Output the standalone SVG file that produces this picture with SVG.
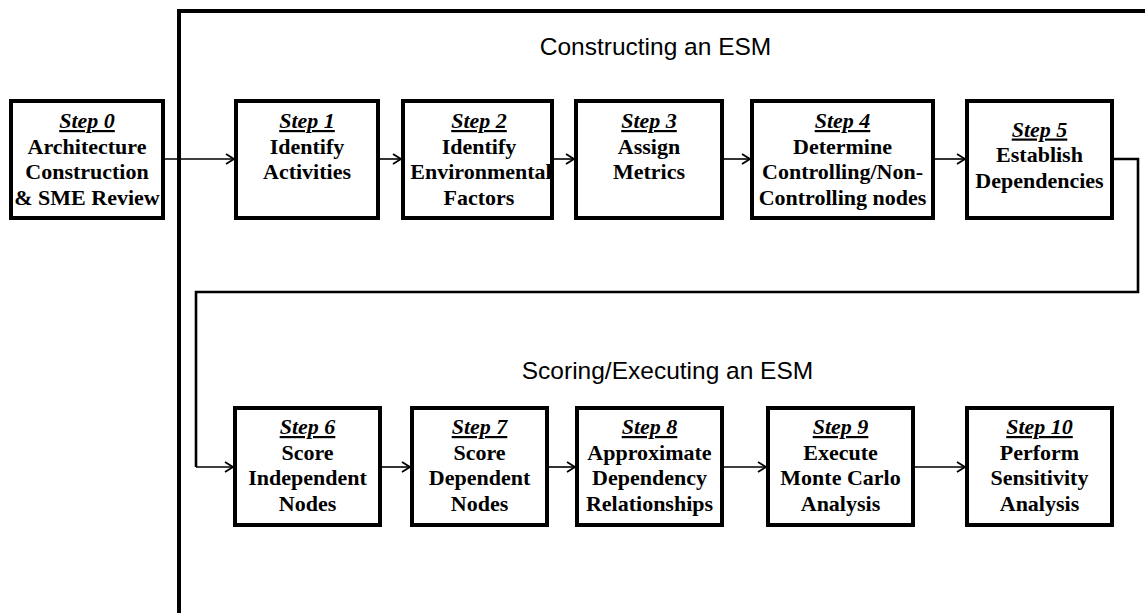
<svg xmlns="http://www.w3.org/2000/svg" width="1145" height="613" viewBox="0 0 1145 613">
<style>
.box{fill:#fff;stroke:#000;stroke-width:4}
.t{font-family:"Liberation Serif",serif;font-weight:bold;font-size:22px;text-anchor:middle;fill:#000}
.s{font-style:italic;text-decoration:underline}
.h{font-family:"Liberation Sans",Arial,sans-serif;font-size:24.5px;text-anchor:middle;fill:#000}
.c{fill:none;stroke:#000;stroke-width:1.6}
.loop{fill:none;stroke:#000;stroke-width:2.6}
.frame{fill:none;stroke:#000;stroke-width:4}
</style>
<defs>
<marker id="ah" markerUnits="userSpaceOnUse" markerWidth="12" markerHeight="14" refX="9" refY="6" orient="auto">
<path d="M1,1 L9,6 L1,11" fill="none" stroke="#000" stroke-width="1.8"/>
</marker>
</defs>
<rect width="1145" height="613" fill="#fff"/>
<g id="frame">
<path class="frame" d="M179,613 V11 H1145"/>
</g>
<g id="titles">
<text class="h" x="655.5" y="55">Constructing an ESM</text>
<text class="h" x="667.5" y="379">Scoring/Executing an ESM</text>
</g>
<g id="connectors">
<path class="c" d="M163,159 H234" marker-end="url(#ah)"/>
<path class="c" d="M378,159 H401" marker-end="url(#ah)"/>
<path class="c" d="M552,159 H574" marker-end="url(#ah)"/>
<path class="c" d="M722,159 H750" marker-end="url(#ah)"/>
<path class="c" d="M933,159 H965" marker-end="url(#ah)"/>
<path class="loop" d="M1112,159 H1138 V292 H196 V467"/>
<path class="c" d="M196,467 H233" marker-end="url(#ah)"/>
<path class="c" d="M380,467 H410" marker-end="url(#ah)"/>
<path class="c" d="M547,467 H575" marker-end="url(#ah)"/>
<path class="c" d="M722,467 H766" marker-end="url(#ah)"/>
<path class="c" d="M913,467 H965" marker-end="url(#ah)"/>
</g>
<g id="step0">
<rect class="box" x="11" y="101" width="152" height="117"/>
<text class="t s" x="87" y="128">Step 0</text>
<text class="t" x="87" y="153.5">Architecture</text>
<text class="t" x="87" y="179">Construction</text>
<text class="t" x="87" y="204.5">&amp; SME Review</text>
</g>
<g id="step1">
<rect class="box" x="236" y="101" width="142" height="117"/>
<text class="t s" x="307" y="128">Step 1</text>
<text class="t" x="307" y="153.5">Identify</text>
<text class="t" x="307" y="179">Activities</text>
</g>
<g id="step2">
<rect class="box" x="403" y="101" width="149" height="117"/>
<text class="t s" x="479" y="128">Step 2</text>
<text class="t" x="479" y="153.5">Identify</text>
<text class="t" x="481" y="179">Environmental</text>
<text class="t" x="479" y="204.5">Factors</text>
</g>
<g id="step3">
<rect class="box" x="576" y="101" width="146" height="117"/>
<text class="t s" x="649" y="128">Step 3</text>
<text class="t" x="649" y="153.5">Assign</text>
<text class="t" x="649" y="179">Metrics</text>
</g>
<g id="step4">
<rect class="box" x="752" y="101" width="181" height="117"/>
<text class="t s" x="842.5" y="128">Step 4</text>
<text class="t" x="842.5" y="153.5">Determine</text>
<text class="t" x="842.5" y="179">Controlling/Non-</text>
<text class="t" x="842.5" y="204.5">Controlling nodes</text>
</g>
<g id="step5">
<rect class="box" x="967" y="101" width="145" height="117"/>
<text class="t s" x="1039.5" y="136.5">Step 5</text>
<text class="t" x="1039.5" y="162">Establish</text>
<text class="t" x="1039.5" y="187.5">Dependencies</text>
</g>
<g id="step6">
<rect class="box" x="235" y="408" width="145" height="117"/>
<text class="t s" x="307.5" y="434">Step 6</text>
<text class="t" x="307.5" y="459.5">Score</text>
<text class="t" x="307.5" y="485">Independent</text>
<text class="t" x="307.5" y="510.5">Nodes</text>
</g>
<g id="step7">
<rect class="box" x="412" y="408" width="135" height="117"/>
<text class="t s" x="479.5" y="434">Step 7</text>
<text class="t" x="479.5" y="459.5">Score</text>
<text class="t" x="479.5" y="485">Dependent</text>
<text class="t" x="479.5" y="510.5">Nodes</text>
</g>
<g id="step8">
<rect class="box" x="577" y="408" width="145" height="117"/>
<text class="t s" x="649.5" y="434">Step 8</text>
<text class="t" x="649.5" y="459.5">Approximate</text>
<text class="t" x="649.5" y="485">Dependency</text>
<text class="t" x="649.5" y="510.5">Relationships</text>
</g>
<g id="step9">
<rect class="box" x="768" y="408" width="145" height="117"/>
<text class="t s" x="840.5" y="434">Step 9</text>
<text class="t" x="840.5" y="459.5">Execute</text>
<text class="t" x="840.5" y="485">Monte Carlo</text>
<text class="t" x="840.5" y="510.5">Analysis</text>
</g>
<g id="step10">
<rect class="box" x="967" y="408" width="145" height="117"/>
<text class="t s" x="1039.5" y="434">Step 10</text>
<text class="t" x="1039.5" y="459.5">Perform</text>
<text class="t" x="1039.5" y="485">Sensitivity</text>
<text class="t" x="1039.5" y="510.5">Analysis</text>
</g>
</svg>
